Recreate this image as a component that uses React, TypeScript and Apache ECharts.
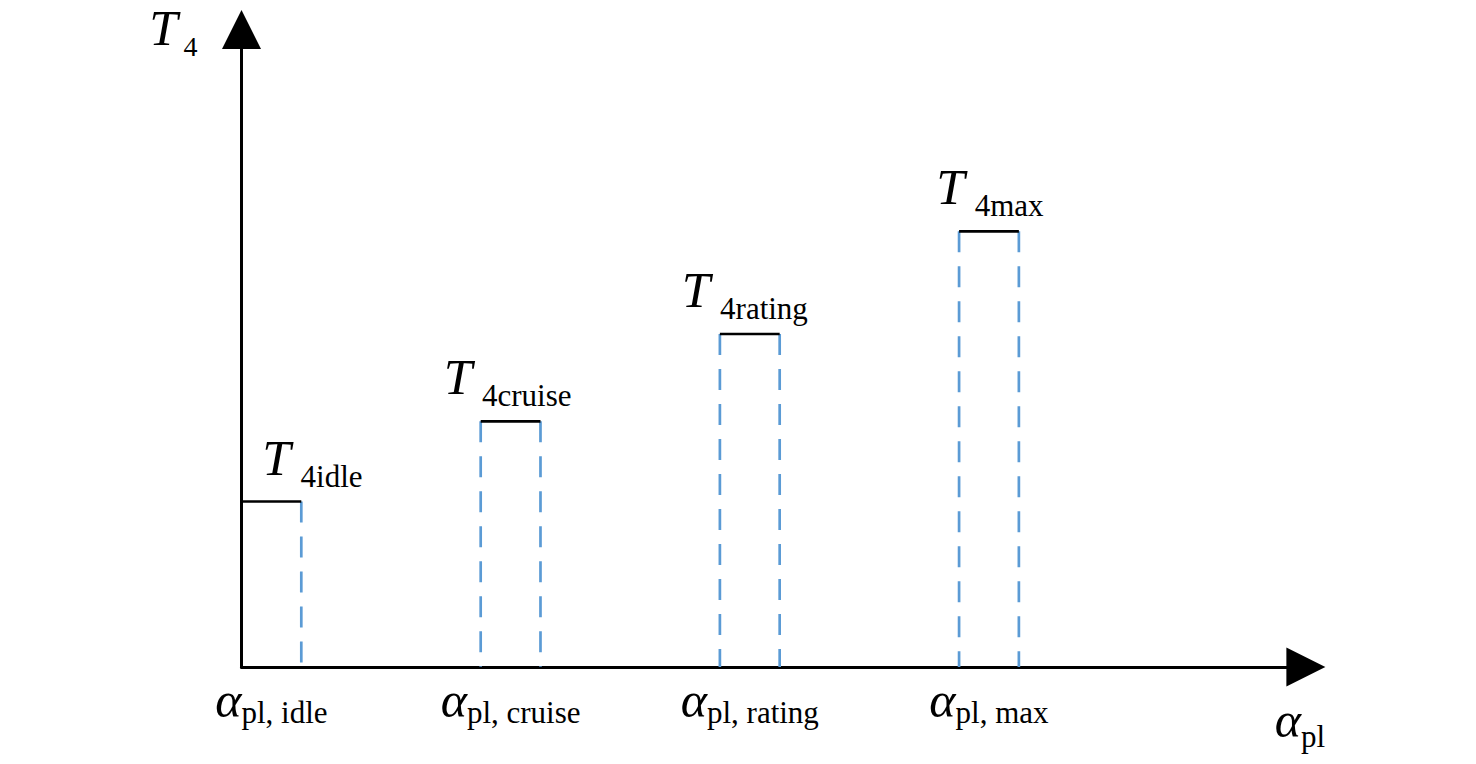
import React, { useEffect, useRef } from 'react';
import * as echarts from 'echarts';

// ---- data ----
const stateNames = ['idle', 'cruise', 'rating', 'max'];
const plateauStart = [0, 4, 8, 12];
const plateauEnd = [1, 5, 9, 13];
const plateauT4 = [1.655, 2.457, 3.33, 4.357];
const xAxisMax = 17.8;
const yAxisMax = 6.375;

// ---- style helpers ----
const labelShiftX = [41, -3, -5, 1];
const FONT = '"Liberation Serif", "Times New Roman", serif';
const BLUE = '#5b9bd5';
const INK = '#000000';

export default function App() {
  const ref = useRef<HTMLDivElement>(null);

  useEffect(() => {
    const chart = echarts.init(ref.current as HTMLDivElement, null, { renderer: 'svg' });
    const centers = stateNames.map((_, i) => (plateauStart[i] + plateauEnd[i]) / 2);

    const series: any[] = [];
    stateNames.forEach((name, i) => {
      series.push({
        type: 'line',
        name: 'T4 ' + name,
        data: [
          [plateauStart[i], plateauT4[i]],
          [plateauEnd[i], plateauT4[i]],
        ],
        symbol: 'none',
        silent: true,
        z: 3,
        lineStyle: { color: INK, width: 2.7, cap: 'butt' },
      });
      const dashedXs = i === 0 ? [plateauEnd[i]] : [plateauStart[i], plateauEnd[i]];
      dashedXs.forEach((x) =>
        series.push({
          type: 'line',
          data: [
            [x, plateauT4[i]],
            [x, 0],
          ],
          symbol: 'none',
          silent: true,
          z: 2,
          lineStyle: { color: BLUE, width: 2.7, type: [21, 14], cap: 'butt' },
        })
      );
    });

    series.push({
      type: 'scatter',
      symbolSize: 0,
      silent: true,
      z: 4,
      itemStyle: { color: INK, opacity: 1 },
      data: stateNames.map((_, i) => ({
        value: [centers[i], plateauT4[i]],
        label: { offset: [labelShiftX[i], 0] },
      })),
      label: {
        show: true,
        position: 'top',
        distance: 10,
        color: INK,
        opacity: 1,
        fontFamily: FONT,
        formatter: (p: any) => `{t|T}{s|4${stateNames[p.dataIndex]}}`,
        rich: {
          t: { fontFamily: FONT, fontStyle: 'italic', fontSize: 51, color: INK },
          s: { fontFamily: FONT, fontSize: 31, color: INK, padding: [37, 0, 0, 10] },
        },
      },
    });

    const option: any = {
      animation: false,
      backgroundColor: '#fff',
      textStyle: { fontFamily: FONT, color: INK },
      grid: { left: 241.5, right: 170.1, top: 29.5, bottom: 97 },
      xAxis: {
        type: 'value',
        min: 0,
        max: xAxisMax,
        splitLine: { show: false },
        axisTick: { show: false },
        axisLine: {
          show: true,
          lineStyle: { color: INK, width: 3 },
          symbol: ['none', 'triangle'],
          symbolSize: [39, 39],
        },
        axisLabel: {
          show: true,
          customValues: centers,
          margin: 5,
          color: INK,
          fontFamily: FONT,
          formatter: (v: number) => {
            let best = 0;
            centers.forEach((c, i) => {
              if (Math.abs(c - v) < Math.abs(centers[best] - v)) best = i;
            });
            return `{a|α}{s|pl, ${stateNames[best]}}`;
          },
          rich: {
            a: { fontFamily: FONT, fontStyle: 'italic', fontSize: 50, color: INK },
            s: { fontFamily: FONT, fontSize: 31, color: INK, padding: [25, 0, 0, 0] },
          },
        },
        name: '{a|α}{s|pl}',
        nameLocation: 'end',
        nameGap: -6,
        nameTextStyle: {
          align: 'center',
          verticalAlign: 'top',
          padding: [21, 0, 0, 0],
          color: INK,
          fontFamily: FONT,
          rich: {
            a: { fontFamily: FONT, fontStyle: 'italic', fontSize: 50, color: INK },
            s: { fontFamily: FONT, fontSize: 31, color: INK, padding: [33, 0, 0, 0] },
          },
        },
      },
      yAxis: {
        type: 'value',
        min: 0,
        max: yAxisMax,
        splitLine: { show: false },
        axisTick: { show: false },
        axisLabel: { show: false },
        axisLine: {
          show: true,
          lineStyle: { color: INK, width: 3 },
          symbol: ['none', 'triangle'],
          symbolSize: [39, 39],
        },
        name: '{t|T}{s|4}',
        nameLocation: 'end',
        nameGap: 34,
        nameTextStyle: {
          align: 'right',
          verticalAlign: 'top',
          padding: [0, 44, 0, 0],
          color: INK,
          fontFamily: FONT,
          rich: {
            t: { fontFamily: FONT, fontStyle: 'italic', fontSize: 51, color: INK },
            s: { fontFamily: FONT, fontSize: 28, color: INK, padding: [37, 0, 0, 6] },
          },
        },
      },
      series,
    };

    chart.setOption(option);
    return () => chart.dispose();
  }, []);

  return (
    <div
      ref={ref}
      style={{ position: 'absolute', left: 0, top: 0, width: '1476px', height: '764px' }}
    />
  );
}
